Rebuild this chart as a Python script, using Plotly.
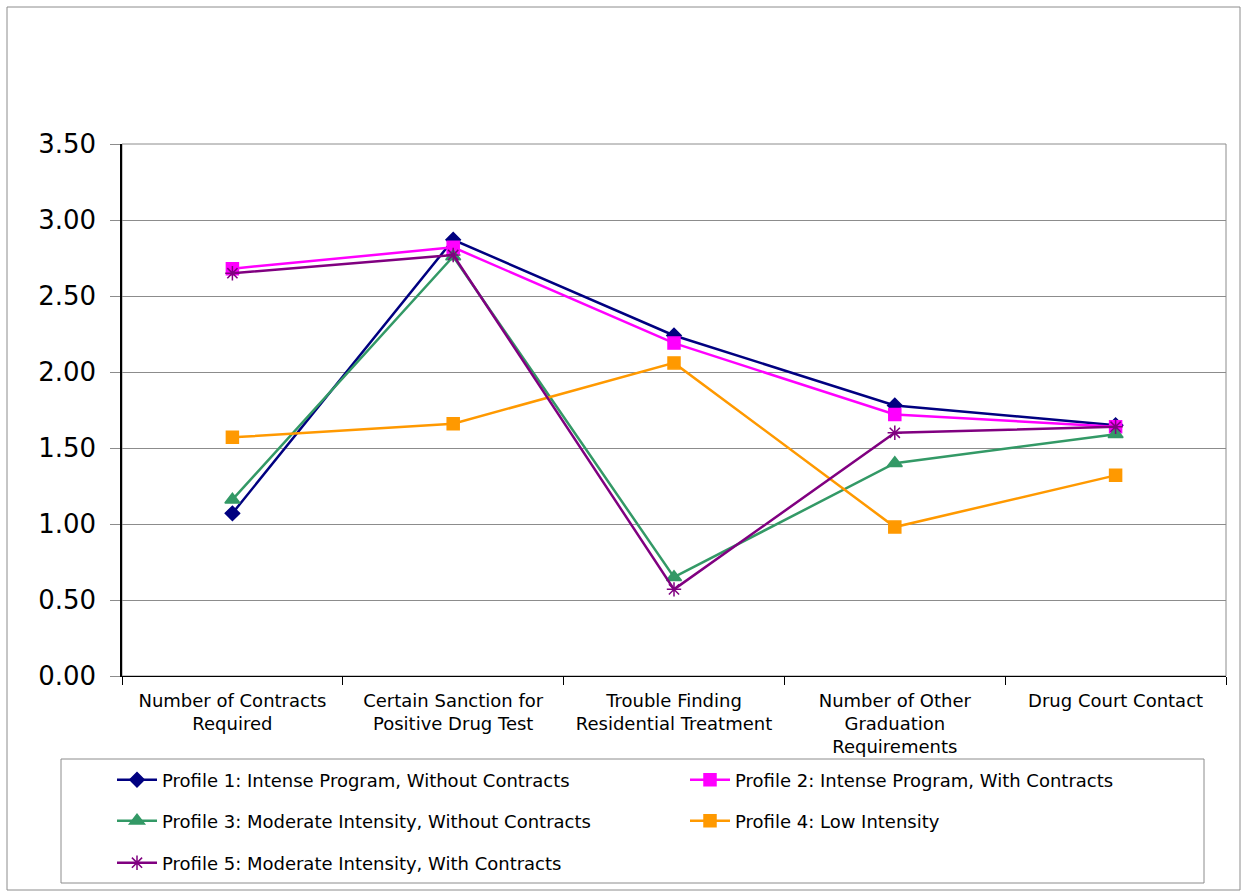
import plotly.graph_objects as go

categories = [
    "Number of Contracts<br>Required",
    "Certain Sanction for<br>Positive Drug Test",
    "Trouble Finding<br>Residential Treatment",
    "Number of Other<br>Graduation<br>Requirements",
    "Drug Court Contact",
]
series_names = [
    "Profile 1: Intense Program, Without Contracts",
    "Profile 2: Intense Program, With Contracts",
    "Profile 3: Moderate Intensity, Without Contracts",
    "Profile 4: Low Intensity",
    "Profile 5: Moderate Intensity, With Contracts",
]
p1 = [1.07, 2.87, 2.24, 1.78, 1.65]
p2 = [2.68, 2.82, 2.19, 1.72, 1.64]
p3 = [1.16, 2.76, 0.65, 1.40, 1.59]
p4 = [1.57, 1.66, 2.06, 0.98, 1.32]
p5 = [2.65, 2.77, 0.57, 1.60, 1.64]
values = [p1, p2, p3, p4, p5]
colors = ["#000080", "#FF00FF", "#339966", "#FF9900", "#800080"]
symbols = ["diamond", "square", "triangle-up", "square", "asterisk-open"]
sizes = [11, 12, 13, 12, 12]
legend_ids = ["legend", "legend2", "legend3", "legend4", "legend5"]
ytickvals = [0, 0.5, 1.0, 1.5, 2.0, 2.5, 3.0, 3.5]

FONT = "DejaVu Sans"

fig = go.Figure()
for name, vals, c, s, sz, lg in zip(series_names, values, colors, symbols, sizes, legend_ids):
    fig.add_trace(go.Scatter(
        x=categories, y=vals, name=name, mode="lines+markers",
        line=dict(color=c, width=2.5),
        marker=dict(symbol=s, size=sz, color=c, line=dict(color=c, width=1.5)),
        legend=lg,
    ))

L, R, T, B = 122, 1226, 144, 676
W, H = 1244, 894
def px(x):
    return (x - L) / (R - L)
def py(y):
    return (B - y) / (B - T)

shapes = [
    dict(type="rect", xref="paper", yref="paper", x0=px(7), x1=px(1240), y0=py(890), y1=py(7),
         line=dict(color="#8c8c8c", width=1), layer="below"),
    dict(type="rect", xref="paper", yref="paper", x0=0, x1=1, y0=0, y1=1,
         line=dict(color="#8c8c8c", width=1), layer="below"),
    dict(type="rect", xref="paper", yref="paper", x0=px(61), x1=px(1204), y0=py(883), y1=py(759),
         line=dict(color="#8c8c8c", width=1), layer="below"),
]

def leg(xl, yc):
    return dict(
        orientation="h", x=px(xl), y=py(yc), xanchor="left", yanchor="middle",
        font=dict(family=FONT, size=18, color="black"),
        itemwidth=40, bgcolor="rgba(0,0,0,0)", borderwidth=0,
    )

fig.update_layout(
    width=W, height=H,
    margin=dict(l=L, r=W - R, t=T, b=H - B),
    paper_bgcolor="white", plot_bgcolor="white",
    font=dict(family=FONT, color="black"),
    shapes=shapes,
    showlegend=True,
    legend=leg(112, 780), legend2=leg(685, 780),
    legend3=leg(112, 821), legend4=leg(685, 821),
    legend5=leg(112, 863),
    xaxis=dict(
        type="category", tickson="boundaries", ticks="outside", ticklen=8,
        tickcolor="black", showline=True, linecolor="black", linewidth=1,
        showgrid=False, tickfont=dict(family=FONT, size=18, color="black"),
        range=[-0.5, 4.5], tickangle=0, ticklabelstandoff=8,
    ),
    yaxis=dict(
        range=[0, 3.5], tickvals=ytickvals, ticktext=[f"{v:.2f}" for v in ytickvals],
        ticks="outside", ticklen=10, tickcolor="#8c8c8c", showline=True, linecolor="black",
        linewidth=1.5, showgrid=True, gridcolor="#8c8c8c", gridwidth=1,
        tickfont=dict(family=FONT, size=26, color="black"), zeroline=False,
        ticklabelstandoff=9,
    ),
)

fig.write_html("out.html")
